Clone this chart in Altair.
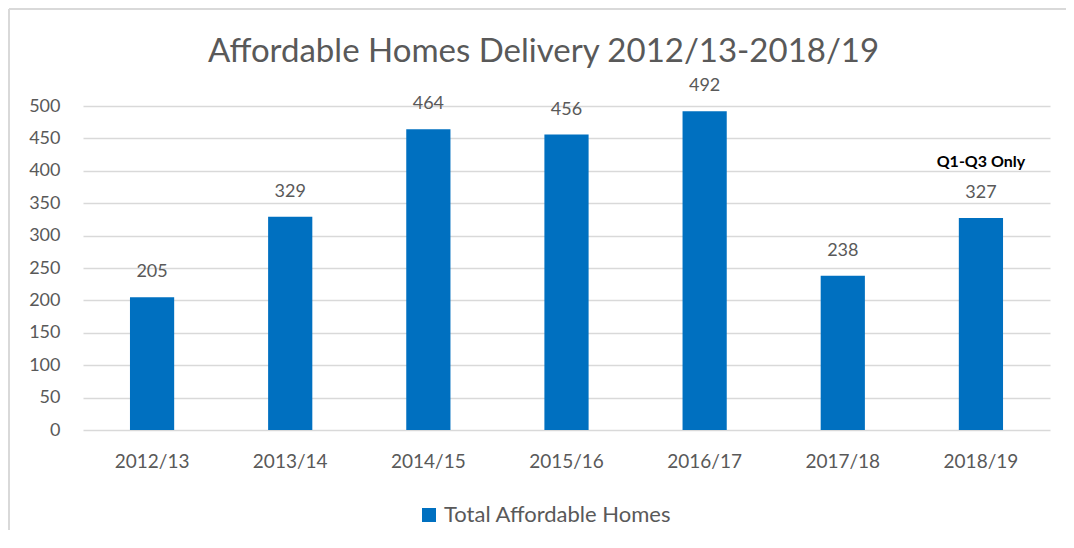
import altair as alt
import pandas as pd

years = ["2012/13", "2013/14", "2014/15", "2015/16", "2016/17", "2017/18", "2018/19"]
homes = [205, 329, 464, 456, 492, 238, 327]
notes = ["", "", "", "", "", "", "Q1-Q3 Only"]
series_name = "Total Affordable Homes"

df = pd.DataFrame({"year": years, "homes": homes, "note": notes, "series": series_name})

FONT = "Lato"
TXT = "#595959"
BLUE = "#0070C0"
GRID = "#D9D9D9"

x = alt.X("year:N", sort=years, title=None,
          scale=alt.Scale(paddingInner=0.68, paddingOuter=0.34),
          axis=alt.Axis(labelAngle=0, labelFontSize=19, labelColor=TXT, labelFont=FONT,
                        labelPadding=22, domain=False, ticks=False))
y = alt.Y("homes:Q", title=None,
          scale=alt.Scale(domain=[0, 500]),
          axis=alt.Axis(values=list(range(0, 501, 50)), labelFontSize=18, labelColor=TXT,
                        labelFont=FONT, labelPadding=23, domain=False, ticks=False,
                        labelOverlap=False, labelBaseline="middle",
                        grid=True, gridColor=GRID, gridWidth=1.5))

border_left = alt.Chart(df).mark_rule(color=GRID, strokeWidth=2, clip=False).encode(
    x=alt.value(-74), x2=alt.value(-74), y=alt.value(-97), y2=alt.value(430)
)
border_top = alt.Chart(df).mark_rule(color=GRID, strokeWidth=2, clip=False).encode(
    x=alt.value(-74), x2=alt.value(983), y=alt.value(-97), y2=alt.value(-97)
)

bars = alt.Chart(df).mark_bar(color=BLUE).encode(
    x=x, y=y,
    color=alt.Color("series:N", scale=alt.Scale(range=[BLUE]), title=None,
                    legend=alt.Legend(orient="none", legendX=335, legendY=398,
                                      symbolType="square", symbolSize=196,
                                      symbolStrokeWidth=0, labelLimit=500,
                                      labelFontSize=22, labelColor=TXT, labelFont=FONT,
                                      labelOffset=4))
)

labels = alt.Chart(df).mark_text(fontSize=18, color=TXT, font=FONT, baseline="middle", dy=-25).encode(
    x=x, y=y, text="homes:Q"
)

note = alt.Chart(df).transform_filter("datum.note != ''").mark_text(
    fontSize=16, fontWeight="bold", color="#000000", font=FONT, baseline="middle", dy=-56
).encode(x=x, y=y, text="note:N")

chart = alt.layer(border_left, border_top, bars, labels, note).properties(
    width=967, height=324,
    autosize=alt.AutoSizeParams(type="none"),
    padding={"left": 75, "top": 98, "right": 16, "bottom": 100},
    title=alt.TitleParams("Affordable Homes Delivery 2012/13-2018/19", fontSize=33,
                          font=FONT, fontWeight="normal", color=TXT, anchor="middle",
                          baseline="alphabetic", dx=-23, offset=-87),
).configure_view(stroke=None)

chart.save("out.html", embed_options={"renderer": "svg", "actions": False})
